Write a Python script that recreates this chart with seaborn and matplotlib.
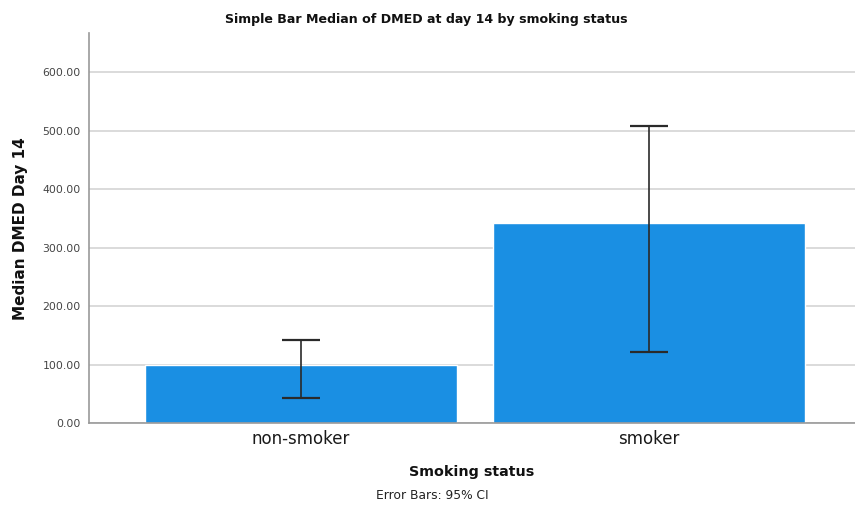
import matplotlib
matplotlib.use("Agg")
import matplotlib.pyplot as plt
import seaborn as sns
import pandas as pd

# Median DMED at day 14 with 95% CI bounds
categories = ["non-smoker", "smoker"]
medians = [99.0, 342.0]
ci_lower = [43.0, 121.0]
ci_upper = [143.0, 509.0]
y_ticks = [0, 100, 200, 300, 400, 500, 600]

df = pd.DataFrame({"status": categories, "median": medians})

sns.set_style("white")
plt.rcParams["font.family"] = ["DejaVu Sans"]

fig = plt.figure(figsize=(8.55, 5.11), dpi=100)
ax = fig.add_axes([0.104, 0.172, 0.896, 0.763])

sns.barplot(data=df, x="status", y="median", color="#1a8fe3", saturation=1,
            width=0.897, errorbar=None, ax=ax, zorder=2)

xs = range(len(categories))
yerr = [[m - lo for m, lo in zip(medians, ci_lower)],
        [hi - m for m, hi in zip(medians, ci_upper)]]
ax.errorbar(xs, medians, yerr=yerr, fmt="none", ecolor="#2a2a2a",
            elinewidth=1.2, capsize=14, capthick=1.6, zorder=3)

ax.set_ylim(0, 667)
ax.set_xlim(-0.609, 1.592)
ax.set_yticks(y_ticks)
ax.set_yticklabels([f"{v:.2f}" for v in y_ticks], fontsize=7.8, color="#444444")
ax.tick_params(axis="x", labelsize=12, length=0, pad=5, labelcolor="#1a1a1a")
ax.tick_params(axis="y", length=0, pad=6)
ax.yaxis.grid(True, color="#d4d4d4", linewidth=1.2, zorder=0)
ax.set_axisbelow(True)

for side in ["top", "right"]:
    ax.spines[side].set_visible(False)
for side in ["left", "bottom"]:
    ax.spines[side].set_color("#999999")
    ax.spines[side].set_linewidth(1.2)

ax.set_xlabel("Smoking status", fontsize=10.3, fontweight="bold", labelpad=12,
              color="#111111")
ax.set_ylabel("Median DMED Day 14", fontsize=11, fontweight="bold", labelpad=10,
              color="#111111")

fig.text(0.499, 0.962, "Simple Bar Median of DMED at day 14 by smoking status",
         ha="center", va="center", fontsize=9.1, fontweight="bold", color="#111111")
fig.text(0.506, 0.03, "Error Bars: 95% CI", ha="center", va="center", fontsize=8.8,
         color="#222222")

fig.savefig("out.png", dpi=100)
